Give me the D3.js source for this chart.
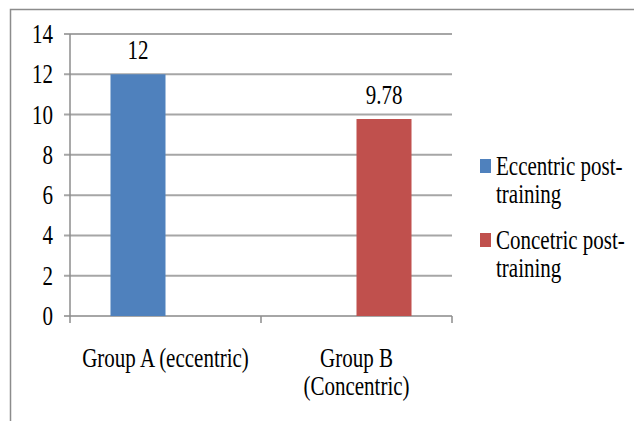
<!DOCTYPE html>
<html><head><meta charset="utf-8">
<script src="https://cdn.jsdelivr.net/npm/d3@7"></script>
<style>
html,body{margin:0;padding:0;background:#fff;}
</style></head>
<body><svg id="c" width="634" height="421"></svg>
<script>
const categories = [["Group A (eccentric)"], ["Group B", "(Concentric)"]];
const seriesNames = [["Eccentric post-", "training"], ["Concetric post-", "training"]];
const eccentricValues = [12, null];
const concentricValues = [null, 9.78];
const valueLabels = [["12", null], [null, "9.78"]];
const yTicks = [0, 2, 4, 6, 8, 10, 12, 14];
const colors = ["#4F81BD", "#C0504D"];

(function () {
const series = [eccentricValues, concentricValues];
const svg = d3.select("#c");
const FS = 21, SY = 1.25;
const FONT = "'Times New Roman', Times, Tinos, 'Liberation Serif', 'Noto Serif', 'DejaVu Serif', serif";
const pLeft = 70, pRight = 452, pTop = 34, pBottom = 316;

// outer border
svg.append("path").attr("d", "M10.5,421 V9.5 H634").attr("fill", "none")
  .attr("stroke", "#8c8c8c").attr("stroke-width", 1.5);

const y = d3.scaleLinear().domain([0, 14]).range([pBottom, pTop]);
const x0 = d3.scaleBand().domain(d3.range(categories.length)).range([pLeft, pRight])
  .paddingInner(0.424).paddingOuter(0.212);
const x1 = d3.scaleBand().domain(d3.range(series.length)).range([0, x0.bandwidth()]);

function stext(g, x, yb, str, anchor) {
  g.append("text").attr("transform", `translate(${x},${yb}) scale(1,${SY})`)
    .attr("text-anchor", anchor).attr("font-size", FS)
    .attr("font-family", FONT).attr("fill", "#000").text(str);
}

// gridlines
svg.append("g").selectAll("line").data(yTicks).join("line")
  .attr("x1", pLeft - 6).attr("x2", pRight).attr("y1", d => y(d)).attr("y2", d => y(d))
  .attr("stroke", "#a6a6a6").attr("stroke-width", 2);

// y axis line
svg.append("line").attr("x1", pLeft).attr("x2", pLeft).attr("y1", pTop).attr("y2", pBottom)
  .attr("stroke", "#8c8c8c").attr("stroke-width", 1.5);
// x tick marks
const xTickPos = [pLeft, (pLeft + pRight) / 2, pRight];
svg.append("g").selectAll("line").data(xTickPos).join("line")
  .attr("x1", d => d).attr("x2", d => d).attr("y1", pBottom).attr("y2", pBottom + 7)
  .attr("stroke", "#8c8c8c").attr("stroke-width", 1.5);

// y labels
const yl = svg.append("g");
yTicks.forEach(t => stext(yl, 53, y(t) + 9, String(t), "end"));

// bars
const bars = svg.append("g");
series.forEach((vals, si) => {
  vals.forEach((v, ci) => {
    if (v == null) return;
    const bx = x0(ci) + x1(si);
    bars.append("rect").attr("x", bx).attr("y", y(v)).attr("width", x1.bandwidth())
      .attr("height", y(0) - y(v)).attr("fill", colors[si]);
    stext(bars, bx + x1.bandwidth() / 2, y(v) - 15, valueLabels[si][ci], "middle");
  });
});

// category labels
const cl = svg.append("g");
categories.forEach((lines, ci) => {
  lines.forEach((ln, li) => stext(cl, x0(ci) + x0.bandwidth() / 2, 367 + li * 28, ln, "middle"));
});

// legend
const lg = svg.append("g");
const legendTop = [159, 233];
seriesNames.forEach((lines, si) => {
  lg.append("rect").attr("x", 480).attr("y", legendTop[si]).attr("width", 11).attr("height", 14)
    .attr("fill", colors[si]);
  lines.forEach((ln, li) => stext(lg, 496, legendTop[si] + 16 + li * 28, ln, "start"));
});
})();
</script></body></html>
